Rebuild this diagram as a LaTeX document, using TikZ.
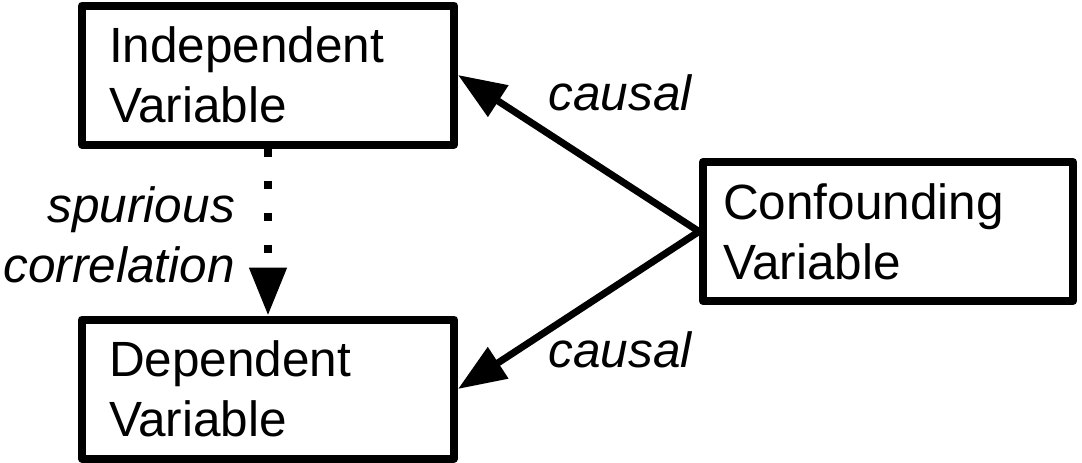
\documentclass[tikz,border=0pt]{standalone}
\usepackage{fontspec}
\setmainfont{Liberation Sans}
\usetikzlibrary{arrows.meta, shapes}
\tikzstyle{varbox} = [rectangle, draw=black, line width=8pt, line join=round, minimum height=139pt, text width=318pt, align=left, inner xsep=27pt, inner ysep=0pt, font=\fontsize{49.5}{60}\selectfont]
\tikzstyle{edgetext} = [font=\fontsize{49.5}{60}\selectfont\itshape, inner sep=0pt]
\tikzstyle{arrow} = [line width=7pt, -{Triangle[length=48pt, width=36pt]}]

\begin{document}
\begin{tikzpicture}[x=1pt, y=1pt, yscale=-1]
\useasboundingbox (0,0) rectangle (1082,463);

\node at (268, 75) (indep) [varbox] {Independent\\Variable};
\node at (268, 389) (dep) [varbox] {Dependent\\Variable};
\node at (888, 231.5) (conf) [varbox, text width=330pt, inner xsep=20pt] {Confounding\\Variable};

\node at (620, 93) (causalA) [edgetext] {causal};
\node at (620, 350) (causalB) [edgetext] {causal};
\node at (235, 235) (spurious) [edgetext, anchor=east, align=right] {spurious\\correlation};

\draw [arrow] (conf.west) -- (indep.east);
\draw [arrow] (conf.west) -- (dep.east);
\draw [arrow, line width=8pt, dash pattern=on 8pt off 24pt] (indep.south) -- (dep.north);

\end{tikzpicture}
\end{document}
